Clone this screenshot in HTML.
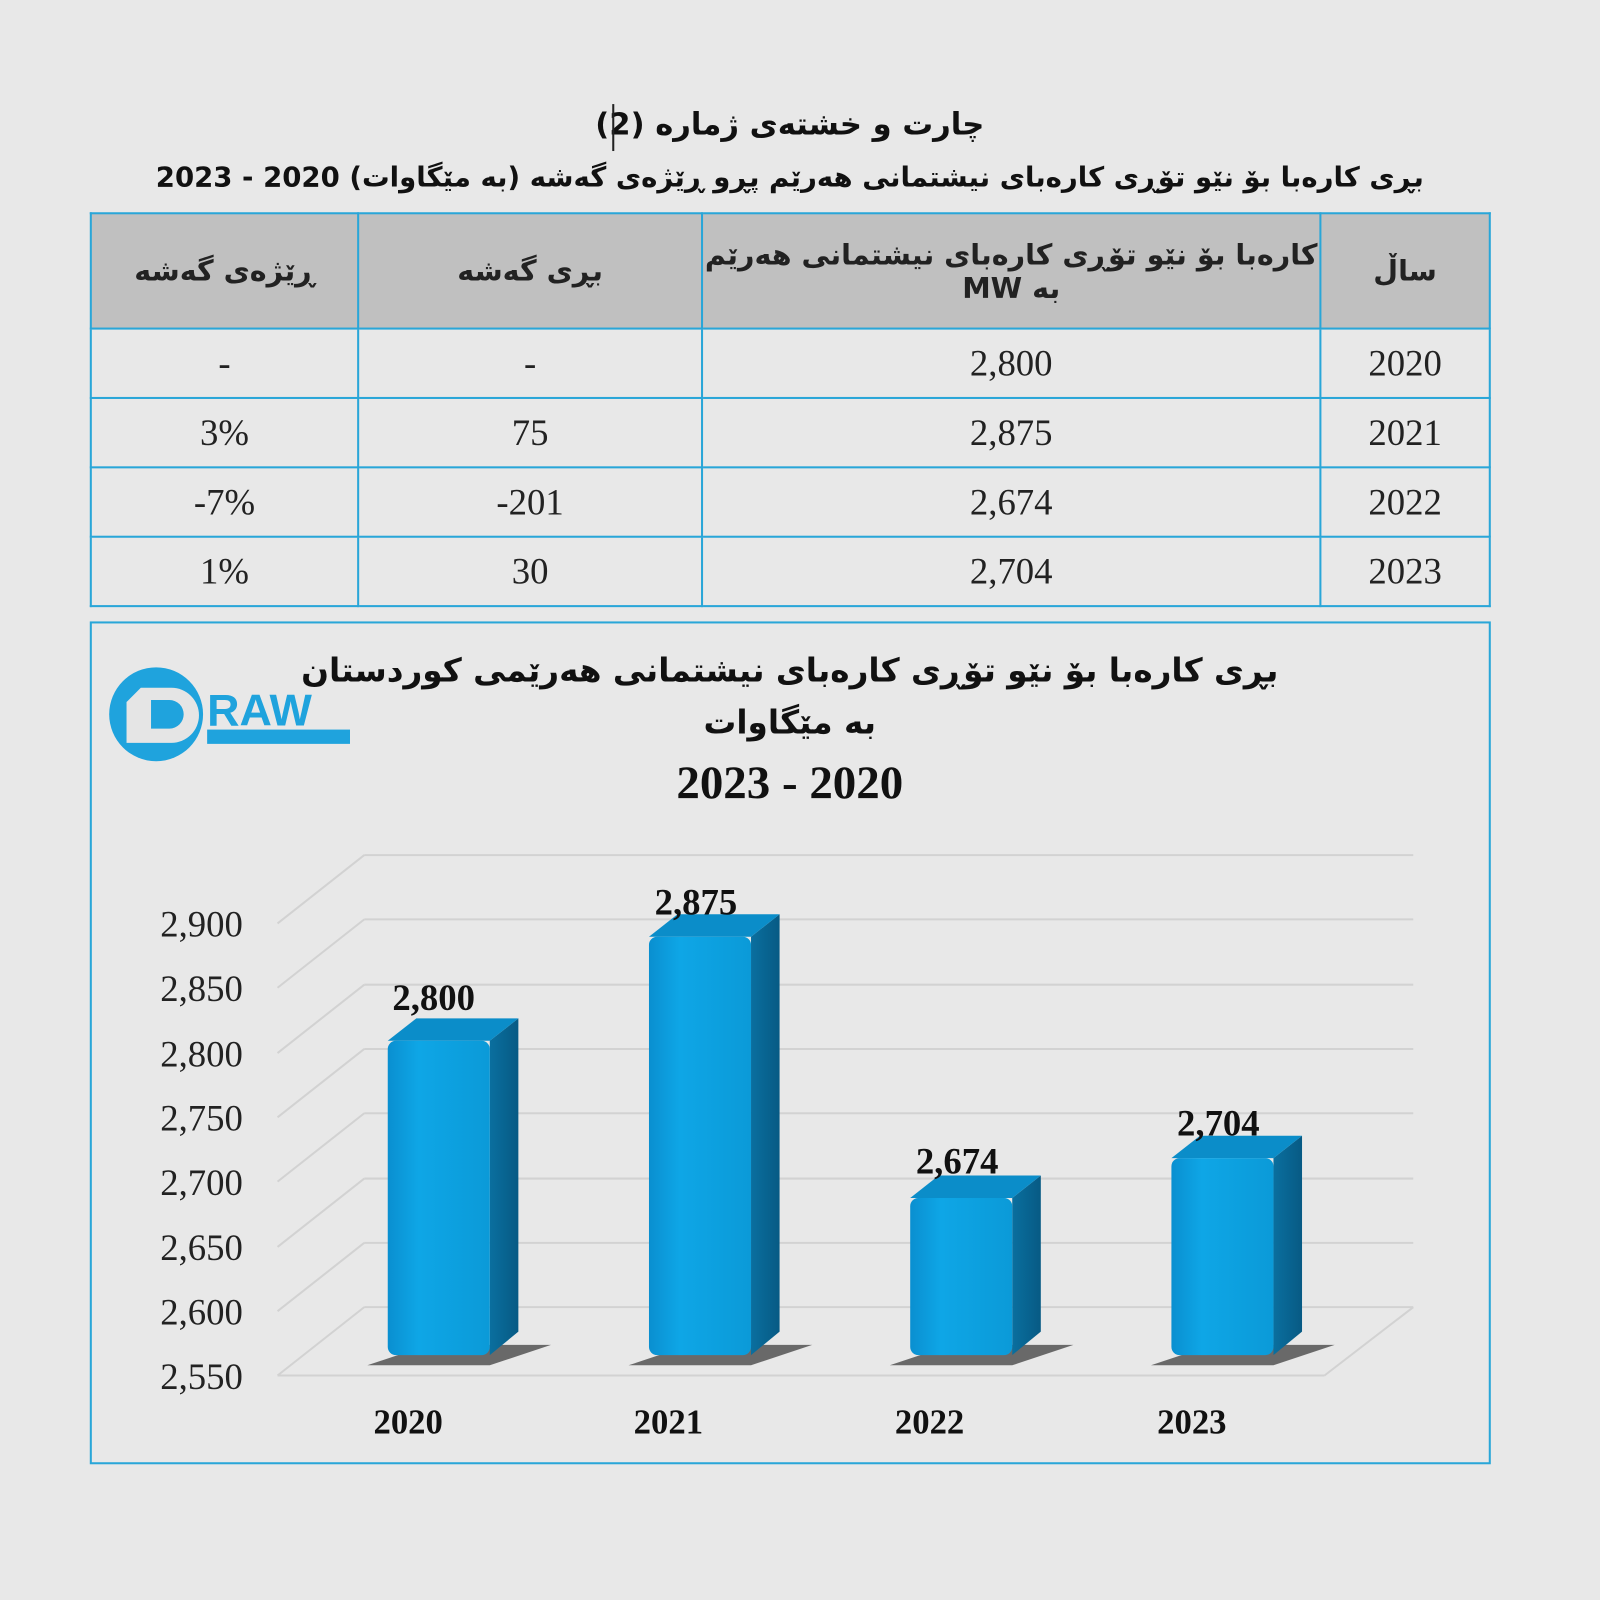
<!DOCTYPE html>
<html><head><meta charset="utf-8"><style>
body{margin:0;width:1600px;height:1600px;background:#e8e8e8;overflow:hidden;font-family:"Liberation Serif",serif}
#w{position:absolute;left:0;top:0;width:1568px;height:1568px;transform:scale(1.0204);transform-origin:0 0}
.ar{font-family:"DejaVu Sans",sans-serif;font-weight:bold;direction:rtl}
.t{position:absolute;left:0;width:1548px;text-align:center;color:#111}
table{position:absolute;left:88px;top:208px;border-collapse:collapse;width:1373px}
td{border:2px solid #29a6d8;text-align:center;font-size:36px;color:#222;height:66px;padding:0}
tr.h td{background:#c0c0c0;height:111px;font-size:28px}
</style></head><body><div id="w">
<div class="t ar" style="top:105px;font-size:30px">چارت و خشتەی ژمارە (2)</div>
<div style="position:absolute;left:600px;top:102px;width:2px;height:46px;background:#222"></div>
<div class="t ar" style="top:159px;font-size:27px;left:0">بڕی کارەبا بۆ نێو تۆڕی کارەبای نیشتمانی هەرێم پڕو ڕێژەی گەشە (بە مێگاوات) 2020 - 2023</div>
<table>
<tr class="h"><td class="ar" style="width:260px">ڕێژەی گەشە</td><td class="ar" style="width:335px">بڕی گەشە</td><td class="ar" style="width:604px">کارەبا بۆ نێو تۆڕی کارەبای نیشتمانی هەرێم<br>بە MW</td><td class="ar">ساڵ</td></tr>
<tr><td>-</td><td>-</td><td>2,800</td><td>2020</td></tr>
<tr><td>3%</td><td>75</td><td>2,875</td><td>2021</td></tr>
<tr><td>-7%</td><td>-201</td><td>2,674</td><td>2022</td></tr>
<tr><td>1%</td><td>30</td><td>2,704</td><td>2023</td></tr>
</table>
<div style="position:absolute;left:88px;top:609px;width:1373px;height:826px;border:2px solid #29a6d8;box-sizing:border-box"></div>
<div class="t ar" style="top:638px;font-size:32px">بڕی کارەبا بۆ نێو تۆڕی کارەبای نیشتمانی هەرێمی کوردستان</div>
<div class="t ar" style="top:689px;font-size:32px">بە مێگاوات</div>
<div class="t" style="top:740px;font-size:46px;font-weight:bold">2023 - 2020</div>
<svg style="position:absolute;left:0;top:0" width="1568" height="1568">
<defs>
<linearGradient id="f" x1="0" x2="1"><stop offset="0" stop-color="#0a8fd0"/><stop offset=".3" stop-color="#0ea6e6"/><stop offset="1" stop-color="#0b9ad8"/></linearGradient>
<linearGradient id="s" x1="0" x2="1"><stop offset="0" stop-color="#0a6f9f"/><stop offset="1" stop-color="#075a84"/></linearGradient>
</defs>
<g stroke="#d2d2d2" stroke-width="2" fill="none">
<path d="M357 838H1385M357 901H1385M357 965H1385M357 1028H1385M357 1091H1385M357 1155H1385M357 1218H1385M357 1281H1385"/>
<path d="M272 905L357 838M272 968L357 901M272 1032L357 965M272 1095L357 1028M272 1158L357 1091M272 1222L357 1155M272 1285L357 1218M272 1348L357 1281"/>
<path d="M272 1348H1298M1298 1348L1385 1281"/>
</g>
<g font-family="Liberation Serif" font-size="36" fill="#222" text-anchor="end">
<text x="238" y="918">2,900</text><text x="238" y="981">2,850</text><text x="238" y="1045">2,800</text><text x="238" y="1108">2,750</text><text x="238" y="1171">2,700</text><text x="238" y="1235">2,650</text><text x="238" y="1298">2,600</text><text x="238" y="1361">2,550</text>
</g>
<g transform="translate(380,0)">
<path d="M-20 1338 L100 1338 L160 1318 L40 1318Z" fill="#333" opacity=".7"/>
<path d="M100 1020 L128 998 L128 1305 L100 1328Z" fill="url(#s)"/>
<path d="M0 1020 L28 998 L128 998 L100 1020Z" fill="#0b8dc9"/>
<rect x="0" y="1020" width="100" height="308" rx="8" fill="url(#f)"/>
</g>
<g transform="translate(636,0)">
<path d="M-20 1338 L100 1338 L160 1318 L40 1318Z" fill="#333" opacity=".7"/>
<path d="M100 918 L128 896 L128 1305 L100 1328Z" fill="url(#s)"/>
<path d="M0 918 L28 896 L128 896 L100 918Z" fill="#0b8dc9"/>
<rect x="0" y="918" width="100" height="410" rx="8" fill="url(#f)"/>
</g>
<g transform="translate(892,0)">
<path d="M-20 1338 L100 1338 L160 1318 L40 1318Z" fill="#333" opacity=".7"/>
<path d="M100 1174 L128 1152 L128 1305 L100 1328Z" fill="url(#s)"/>
<path d="M0 1174 L28 1152 L128 1152 L100 1174Z" fill="#0b8dc9"/>
<rect x="0" y="1174" width="100" height="154" rx="8" fill="url(#f)"/>
</g>
<g transform="translate(1148,0)">
<path d="M-20 1338 L100 1338 L160 1318 L40 1318Z" fill="#333" opacity=".7"/>
<path d="M100 1135 L128 1113 L128 1305 L100 1328Z" fill="url(#s)"/>
<path d="M0 1135 L28 1113 L128 1113 L100 1135Z" fill="#0b8dc9"/>
<rect x="0" y="1135" width="100" height="193" rx="8" fill="url(#f)"/>
</g>
<g font-family="Liberation Serif" font-weight="bold" font-size="36" fill="#111" text-anchor="middle">
<text x="425" y="990">2,800</text><text x="682" y="896">2,875</text><text x="938" y="1150">2,674</text><text x="1194" y="1113">2,704</text>
</g>
<g font-family="Liberation Serif" font-weight="bold" font-size="34" fill="#111" text-anchor="middle">
<text x="400" y="1405">2020</text><text x="655" y="1405">2021</text><text x="911" y="1405">2022</text><text x="1168" y="1405">2023</text>
</g>
<circle cx="153" cy="700" r="46" fill="#1fa3dd"/>
<path d="M138 674 H168 A27 27 0 0 1 168 728 H124 V688 Z" fill="#e5e5e5"/>
<path d="M148 686 H166 A14 14 0 0 1 166 714 H148Z" fill="#1fa3dd"/>
<text x="203" y="711" font-family="Liberation Sans" font-weight="bold" font-size="44" fill="#1fa3dd">RAW</text>
<rect x="203" y="715" width="140" height="14" fill="#1fa3dd"/>
</svg>
</div></body></html>
